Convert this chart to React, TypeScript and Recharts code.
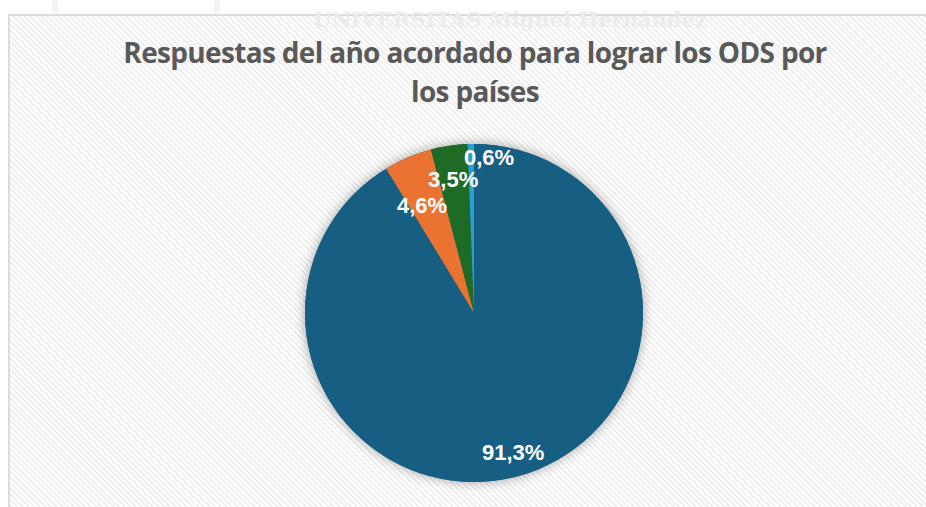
import React from "react";
import { PieChart, Pie, Cell } from "recharts";

const categories = ["Respuesta 1", "Respuesta 2", "Respuesta 3", "Respuesta 4"];
const shares = [91.3, 4.6, 3.5, 0.6];
const sliceColors = ["#175f82", "#eb7331", "#1d6b25", "#2a9fd6"];

// per-slice label placement (fraction of radius, nudges) — Excel spreads the small ones
const labelRadius = [0.86, 0.71, 0.8, 0.92];
const labelNudgeX = [0, -5, -1, 18];
const labelNudgeY = [0, 3, 0, 0];

const data = categories.map((name, i) => ({ name, value: shares[i] }));
const total = [{ name: "total", value: shares.reduce((a, b) => a + b, 0) }];

const RAD = Math.PI / 180;

function renderLabel(props: any) {
  const { cx, cy, midAngle, outerRadius, index, value } = props;
  const r = outerRadius * labelRadius[index];
  const x = cx + r * Math.cos(-midAngle * RAD) + labelNudgeX[index];
  const y = cy + r * Math.sin(-midAngle * RAD) + labelNudgeY[index];
  return (
    <text
      x={x}
      y={y}
      fill="#ffffff"
      textAnchor="middle"
      dominantBaseline="central"
      fontFamily="'Liberation Sans', Arial, sans-serif"
      fontWeight="bold"
      fontSize={22}
    >
      {value.toFixed(1).replace(".", ",")}%
    </text>
  );
}

export default function App() {
  return (
    <div
      style={{
        position: "absolute",
        left: 0,
        top: 0,
        width: 926,
        height: 507,
        overflow: "hidden",
        background: "#ffffff",
      }}
    >
      {/* faint watermark */}
      <div
        style={{
          position: "absolute",
          left: 52,
          top: -20,
          width: 168,
          height: 98,
          border: "6px solid #f3f3f3",
          boxSizing: "border-box",
        }}
      />
      <div
        style={{
          position: "absolute",
          left: 8,
          top: 14,
          width: 940,
          height: 520,
          border: "2px solid #dcdcdc",
          boxSizing: "border-box",
          background:
            "repeating-linear-gradient(45deg, #ffffff 0px, #ffffff 2px, #efefef 2px, #efefef 4px)",
        }}
      />
      <div
        style={{
          position: "absolute",
          left: 250,
          top: 8,
          width: 520,
          textAlign: "center",
          fontFamily: "'DejaVu Serif', serif",
          fontWeight: "bold",
          fontSize: 21,
          lineHeight: "24px",
          color: "#ececec",
          whiteSpace: "nowrap",
        }}
      >
        UNIVERSITAS Miguel Hernández
      </div>
      <div
        style={{
          position: "absolute",
          left: 0,
          top: 33,
          width: 950,
          textAlign: "center",
          fontFamily: "'Open Sans', sans-serif",
          fontWeight: "bold",
          fontSize: 28,
          lineHeight: "39px",
          color: "#595959",
          letterSpacing: -0.67,
        }}
      >
        Respuestas del año acordado para lograr los ODS por
        <br />
        los países
      </div>
      <div style={{ position: "absolute", left: 0, top: 0 }}>
        <PieChart width={926} height={507} margin={{ top: 0, right: 0, bottom: 0, left: 0 }}>
          <Pie
            data={total}
            dataKey="value"
            cx={474}
            cy={313}
            outerRadius={169}
            startAngle={90}
            endAngle={-270}
            stroke="none"
            isAnimationActive={false}
          >
            <Cell fill="#175f82" style={{ filter: "drop-shadow(0 0 6px rgba(0,0,0,0.35))" }} />
          </Pie>
          <Pie
            data={data}
            dataKey="value"
            nameKey="name"
            cx={474}
            cy={313}
            outerRadius={169}
            startAngle={90}
            endAngle={-270}
            stroke="none"
            labelLine={false}
            label={renderLabel}
            isAnimationActive={false}
          >
            {data.map((d, i) => (
              <Cell key={d.name} fill={sliceColors[i]} />
            ))}
          </Pie>
        </PieChart>
      </div>
    </div>
  );
}
